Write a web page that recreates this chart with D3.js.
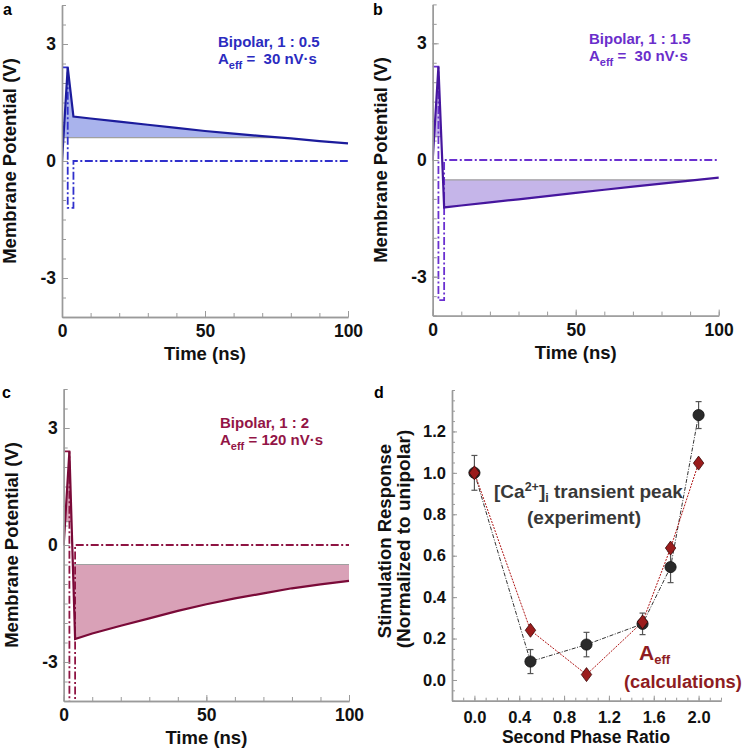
<!DOCTYPE html>
<html><head><meta charset="utf-8">
<script src="https://cdn.jsdelivr.net/npm/d3@7"></script>
<style>
body{margin:0;background:#fff;}
svg{display:block;}
text{font-family:"Liberation Sans",Arial,Helvetica,sans-serif;font-weight:bold;}
</style></head><body>
<svg id="chart" width="744" height="751"></svg>
<script>
// ---------- data ----------
const timeTicks = [0, 50, 100];
const voltTicks = [-3, 0, 3];

const timeA = [0, 2, 4, 10, 20, 30, 40, 50, 60, 70, 80, 90, 100];
const voltA = [0, 2.4, 1.14, 1.09, 1.01, 0.93, 0.85, 0.77, 0.70, 0.64, 0.58, 0.51, 0.45];
const pulseTimeA = [0, 2, 2, 4, 4, 100];
const pulseVoltA = [2.4, 2.4, -1.2, -1.2, 0, 0];
const thresholdsA = [0.6];

const timeB = [0, 2, 4, 10, 20, 30, 40, 50, 60, 70, 80, 90, 100];
const voltB = [0, 2.4, -1.22, -1.17, -1.09, -1.01, -0.93, -0.845, -0.765, -0.685, -0.605, -0.53, -0.455];
const pulseTimeB = [0, 2, 2, 4, 4, 100];
const pulseVoltB = [2.4, 2.4, -3.6, -3.6, 0, 0];
const thresholdsB = [0.6, -0.51];

const timeC = [0, 2, 4, 10, 20, 30, 40, 50, 60, 70, 80, 90, 100];
const voltC = [0, 2.4, -2.41, -2.27, -2.07, -1.88, -1.69, -1.52, -1.37, -1.24, -1.11, -1.01, -0.92];
const pulseTimeC = [0, 2, 2, 4, 4, 100];
const pulseVoltC = [2.4, 2.4, -4.8, -4.8, 0, 0];
const thresholdsC = [0.6, -0.5];

const ratioTicks = [0, 0.4, 0.8, 1.2, 1.6, 2.0];
const responseTicks = [0, 0.2, 0.4, 0.6, 0.8, 1.0, 1.2];
const ratios = [0, 0.5, 1.0, 1.5, 1.75, 2.0];
const expMean = [1.0, 0.089, 0.171, 0.271, 0.545, 1.279];
const expErr = [0.084, 0.058, 0.059, 0.052, 0.075, 0.065];
const calcAeff = [1.0, 0.24, 0.026, 0.28, 0.637, 1.047];

// ---------- drawing ----------
const svg = d3.select('#chart');
const defs = svg.append('defs');

function regions(ts, vs, thr) {
  const sgn = thr > 0 ? 1 : -1;
  const out = []; let cur = null;
  for (let i = 0; i < ts.length; i++) {
    const inside = sgn * (vs[i] - thr) > 0;
    if (i > 0) {
      const prevIn = sgn * (vs[i-1] - thr) > 0;
      if (inside !== prevIn) {
        const tc = ts[i-1] + (thr - vs[i-1]) * (ts[i] - ts[i-1]) / (vs[i] - vs[i-1]);
        if (inside) { cur = [[tc, thr]]; }
        else { cur.push([tc, thr]); out.push(cur); cur = null; }
      }
    }
    if (inside) { if (!cur) cur = [[ts[i], thr]]; cur.push([ts[i], vs[i]]); }
  }
  if (cur) { cur.push([ts[ts.length-1], thr]); out.push(cur); }
  return out;
}

function styleAxis(g, fs) {
  g.selectAll('.domain').attr('stroke', '#9a9a9a').attr('stroke-width', 1.4);
  g.selectAll('.tick line').attr('stroke', '#9a9a9a').attr('stroke-width', 1);
  g.selectAll('text').attr('font-size', fs).attr('fill', '#111')
    .attr('font-family', '"Liberation Sans",Arial,sans-serif').attr('font-weight', 'bold');
}

function wavePanel(cfg) {
  const g = svg.append('g');
  const x = d3.scaleLinear().domain([0, 100]).range([cfg.x0, cfg.x1]);
  const y = d3.scaleLinear().domain([-4, 4]).range([cfg.yBot, cfg.yTop]);
  const clipId = 'clip' + cfg.id;
  defs.append('clipPath').attr('id', clipId).append('rect')
    .attr('x', cfg.x0).attr('y', cfg.yTop).attr('width', cfg.x1 - cfg.x0 + 4).attr('height', cfg.yBot - cfg.yTop);
  const line = d3.line().x(d => x(d[0])).y(d => y(d[1]));

  // minor ticks
  const gxm = g.append('g').attr('transform', `translate(0,${cfg.yBot})`)
    .call(d3.axisBottom(x).tickValues(d3.range(0, 101, 10)).tickSize(-4).tickSizeOuter(0).tickFormat(''));
  styleAxis(gxm, 17);
  const gym = g.append('g').attr('transform', `translate(${cfg.x0},0)`)
    .call(d3.axisLeft(y).tickValues(d3.range(-4, 4.01, 0.5)).tickSize(-4).tickSizeOuter(0).tickFormat(''));
  styleAxis(gym, 17);

  // fills + threshold lines
  cfg.thresholds.forEach(thr => {
    regions(cfg.time, cfg.volt, thr).forEach(seg => {
      g.append('path').attr('d', line(seg) + 'Z').attr('fill', cfg.fill).attr('stroke', 'none');
      g.append('line')
        .attr('x1', x(seg[0][0])).attr('x2', x(seg[seg.length-1][0]))
        .attr('y1', y(thr)).attr('y2', y(thr))
        .attr('stroke', '#a0a0a0').attr('stroke-width', 1.2);
    });
  });

  // pulse
  g.append('path').datum(d3.zip(cfg.pulseTime, cfg.pulseVolt))
    .attr('d', line).attr('fill', 'none').attr('stroke', cfg.pulse).attr('stroke-width', 1.8)
    .attr('stroke-dasharray', '8,2.5,2,2.5').attr('clip-path', `url(#${clipId})`);
  // membrane potential
  g.append('path').datum(d3.zip(cfg.time, cfg.volt))
    .attr('d', line).attr('fill', 'none').attr('stroke', cfg.line).attr('stroke-width', 2.2)
    .attr('stroke-linejoin', 'miter').attr('clip-path', `url(#${clipId})`);

  // major axes
  const gx = g.append('g').attr('transform', `translate(0,${cfg.yBot})`)
    .call(d3.axisBottom(x).tickValues(timeTicks).tickSize(-6).tickSizeOuter(0).tickPadding(8).tickFormat(d => String(d)));
  styleAxis(gx, 17.5);
  const gy = g.append('g').attr('transform', `translate(${cfg.x0},0)`)
    .call(d3.axisLeft(y).tickValues(voltTicks).tickSize(-6).tickSizeOuter(0).tickPadding(6).tickFormat(d => String(d)));
  styleAxis(gy, 17.5);

  // titles
  g.append('text').attr('x', (cfg.x0 + cfg.x1) / 2).attr('y', cfg.yBot + 43)
    .attr('text-anchor', 'middle').attr('font-size', 18.5).attr('fill', '#111').text('Time (ns)');
  g.append('text').attr('transform', `translate(${cfg.x0 - 46},${(cfg.yTop + cfg.yBot) / 2}) rotate(-90)`)
    .attr('text-anchor', 'middle').attr('font-size', 18.5).attr('fill', '#111').text('Membrane Potential (V)');
  g.append('text').attr('x', cfg.letterX).attr('y', cfg.letterY).attr('font-size', 16).attr('fill', '#000').text(cfg.id);

  // annotation
  g.append('text').attr('x', cfg.tx).attr('y', cfg.ty).attr('font-size', 15).attr('fill', cfg.text)
    .style('white-space', 'pre').text(cfg.label1);
  const t2 = g.append('text').attr('x', cfg.tx).attr('y', cfg.ty + 17).attr('font-size', 15).attr('fill', cfg.text)
    .style('white-space', 'pre');
  t2.append('tspan').text('A');
  t2.append('tspan').attr('font-size', 11).attr('dy', 5).text('eff');
  t2.append('tspan').attr('dy', -5).text(cfg.label2);
}

wavePanel({id: 'a', x0: 62, x1: 348, yTop: 5, yBot: 317,
  time: timeA, volt: voltA, pulseTime: pulseTimeA, pulseVolt: pulseVoltA, thresholds: thresholdsA,
  line: '#1c1c9c', pulse: '#3030cc', fill: '#a9b3ec', text: '#2b2bc0',
  letterX: 3, letterY: 15, tx: 218, ty: 47, label1: 'Bipolar, 1 : 0.5', label2: ' =  30 nV·s'});
wavePanel({id: 'b', x0: 432.7, x1: 718.7, yTop: 4.4, yBot: 315.6,
  time: timeB, volt: voltB, pulseTime: pulseTimeB, pulseVolt: pulseVoltB, thresholds: thresholdsB,
  line: '#46169e', pulse: '#6a30d0', fill: '#c5b5e9', text: '#6a2ecb',
  letterX: 373, letterY: 15, tx: 589, ty: 44, label1: 'Bipolar, 1 : 1.5', label2: ' =  30 nV·s'});
wavePanel({id: 'c', x0: 63.7, x1: 349, yTop: 389, yBot: 701,
  time: timeC, volt: voltC, pulseTime: pulseTimeC, pulseVolt: pulseVoltC, thresholds: thresholdsC,
  line: '#7a0a38', pulse: '#8e1443', fill: '#d9a1b7', text: '#931546',
  letterX: 2, letterY: 398, tx: 220, ty: 428, label1: 'Bipolar, 1 : 2', label2: ' = 120 nV·s'});

// ---------- panel d ----------
(function () {
  const x0 = 452, x1 = 721, yTop = 390, yBot = 700.7;
  const g = svg.append('g');
  const x = d3.scaleLinear().domain([-0.2, 2.2]).range([x0, x1]);
  const y = d3.scaleLinear().domain([-0.1, 1.4]).range([yBot, yTop]);

  const gxm = g.append('g').attr('transform', `translate(0,${yBot})`)
    .call(d3.axisBottom(x).tickValues(d3.range(-0.2, 2.21, 0.1)).tickSize(-3).tickSizeOuter(0).tickFormat(''));
  styleAxis(gxm, 16);
  const gym = g.append('g').attr('transform', `translate(${x0},0)`)
    .call(d3.axisLeft(y).tickValues(d3.range(-0.1, 1.401, 0.05)).tickSize(-3).tickSizeOuter(0).tickFormat(''));
  styleAxis(gym, 16);
  const gx = g.append('g').attr('transform', `translate(0,${yBot})`)
    .call(d3.axisBottom(x).tickValues(ratioTicks).tickSize(-5).tickSizeOuter(0).tickPadding(11).tickFormat(d3.format('.1f')));
  styleAxis(gx, 16.5);
  const gy = g.append('g').attr('transform', `translate(${x0},0)`)
    .call(d3.axisLeft(y).tickValues(responseTicks).tickSize(-5).tickSizeOuter(0).tickPadding(6).tickFormat(d3.format('.1f')));
  styleAxis(gy, 16.5);

  const expPts = ratios.map((r, i) => [r, expMean[i], expErr[i]]);
  const calcPts = ratios.map((r, i) => [r, calcAeff[i]]);
  const line = d3.line().x(d => x(d[0])).y(d => y(d[1]));

  g.append('path').datum(expPts).attr('d', line).attr('fill', 'none')
    .attr('stroke', '#333').attr('stroke-width', 1).attr('stroke-dasharray', '4,1.5,1,1.5');
  g.append('path').datum(calcPts).attr('d', line).attr('fill', 'none')
    .attr('stroke', '#b01818').attr('stroke-width', 1).attr('stroke-dasharray', '2,1.2');

  const eb = g.append('g');
  expPts.forEach(d => {
    eb.append('line').attr('x1', x(d[0])).attr('x2', x(d[0])).attr('y1', y(d[1] - d[2])).attr('y2', y(d[1] + d[2]))
      .attr('stroke', '#555').attr('stroke-width', 1.2);
    [d[1] - d[2], d[1] + d[2]].forEach(v => {
      eb.append('line').attr('x1', x(d[0]) - 3).attr('x2', x(d[0]) + 3).attr('y1', y(v)).attr('y2', y(v))
        .attr('stroke', '#555').attr('stroke-width', 1.2);
    });
  });
  g.selectAll('circle.exp').data(expPts).join('circle').attr('class', 'exp')
    .attr('cx', d => x(d[0])).attr('cy', d => y(d[1])).attr('r', 5.6)
    .attr('fill', '#2a2a2a').attr('stroke', '#111').attr('stroke-width', 0.8);
  g.selectAll('path.calc').data(calcPts).join('path').attr('class', 'calc')
    .attr('d', 'M0,-7L5.2,0L0,7L-5.2,0Z')
    .attr('transform', d => `translate(${x(d[0])},${y(d[1])})`)
    .attr('fill', '#9b1c1c').attr('stroke', '#3a0808').attr('stroke-width', 0.8);

  // titles
  g.append('text').attr('x', (x0 + x1) / 2 - 0.5).attr('y', 743).attr('text-anchor', 'middle')
    .attr('font-size', 17.5).attr('fill', '#111').text('Second Phase Ratio');
  g.append('text').attr('transform', `translate(391,541) rotate(-90)`).attr('text-anchor', 'middle')
    .attr('font-size', 18.5).attr('fill', '#111').text('Stimulation Response');
  g.append('text').attr('transform', `translate(410,539) rotate(-90)`).attr('text-anchor', 'middle')
    .attr('font-size', 19).attr('fill', '#111').text('(Normalized to unipolar)');
  g.append('text').attr('x', 374).attr('y', 398).attr('font-size', 16).attr('fill', '#000').text('d');

  const ff = '"Open Sans","Noto Sans",sans-serif';
  const a1 = g.append('text').attr('x', 494).attr('y', 498).attr('font-size', 19)
    .attr('font-family', ff).attr('fill', '#383838').style('white-space', 'pre');
  a1.append('tspan').text('[Ca');
  a1.append('tspan').attr('font-size', 12.5).attr('dy', -7).text('2+');
  a1.append('tspan').attr('dy', 7).text(']');
  a1.append('tspan').attr('font-size', 12.5).attr('dy', 4).text('i');
  a1.append('tspan').attr('dy', -4).text(' transient peak');
  g.append('text').attr('x', 584).attr('y', 524).attr('text-anchor', 'middle').attr('font-size', 19)
    .attr('font-family', ff).attr('fill', '#383838').text('(experiment)');
  const a2 = g.append('text').attr('x', 639).attr('y', 660).attr('font-size', 21)
    .attr('font-family', ff).attr('fill', '#8e1c22');
  a2.append('tspan').text('A');
  a2.append('tspan').attr('font-size', 13).attr('dy', 4).text('eff');
  g.append('text').attr('x', 624).attr('y', 688).attr('font-size', 18.3)
    .attr('font-family', ff).attr('fill', '#8e1c22').text('(calculations)');
})();
</script>
</body></html>
